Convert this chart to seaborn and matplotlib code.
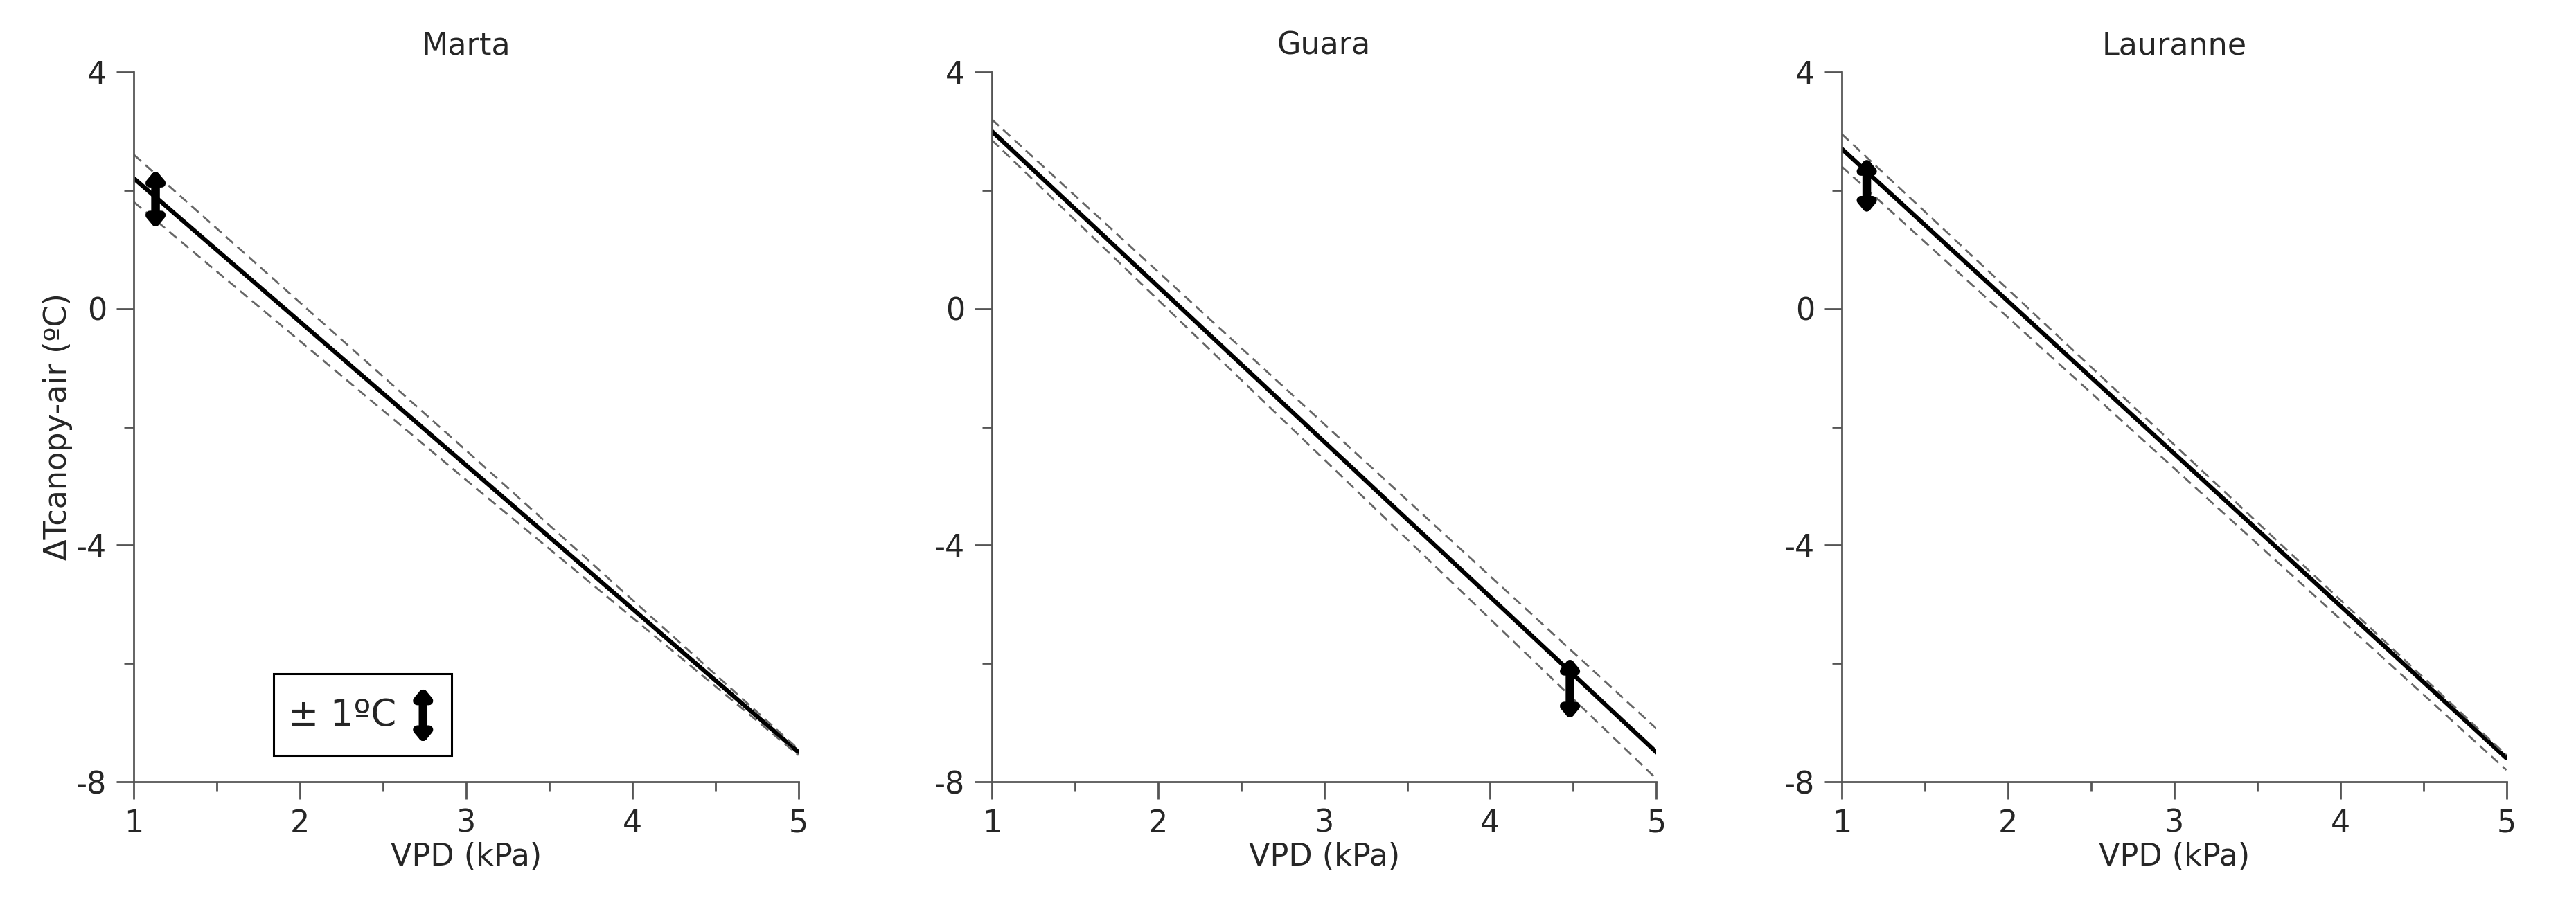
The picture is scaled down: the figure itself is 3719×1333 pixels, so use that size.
import numpy as np
import matplotlib
matplotlib.use("Agg")
import matplotlib.pyplot as plt
from matplotlib.patches import Rectangle
import seaborn as sns

sns.set_theme(style="ticks")
plt.rcParams['font.family'] = ['DejaVu Sans']
plt.rcParams['axes.unicode_minus'] = False

# datos
cultivars = ['Marta', 'Guara', 'Lauranne']
vpd = [1, 3, 5]
fit_line = {
    'Marta': [2.2, -2.65, -7.5],
    'Guara': [3.0, -2.25, -7.5],
    'Lauranne': [2.7, -2.45, -7.6],
}
upper_band = {
    'Marta': [2.6, -2.4, -7.45],
    'Guara': [3.2, -1.95, -7.1],
    'Lauranne': [2.95, -2.3, -7.55],
}
lower_band = {
    'Marta': [1.8, -2.9, -7.55],
    'Guara': [2.85, -2.55, -7.95],
    'Lauranne': [2.4, -2.7, -7.8],
}
# flechas ±1ºC (x, y_bajo, y_alto)
arrows = {
    'Marta': (1.13, 1.35, 2.35),
    'Guara': (4.48, -6.95, -5.9),
    'Lauranne': (1.15, 1.6, 2.55),
}

fig = plt.figure(figsize=(37.19, 13.33), dpi=100)
lefts = [0.052, 0.385, 0.715]
fs = 32
arrow_props = dict(arrowstyle='<|-|>,head_width=0.5,head_length=0.6', lw=9, color='black',
                   shrinkA=0, shrinkB=0)

for i, name in enumerate(cultivars):
    ax = fig.add_axes([lefts[i], 0.153, 0.258, 0.769])
    sns.lineplot(x=vpd, y=fit_line[name], ax=ax, color='black', linewidth=4.5)
    sns.lineplot(x=vpd, y=upper_band[name], ax=ax, color='#666666', linewidth=2, linestyle=(0, (5, 3)))
    sns.lineplot(x=vpd, y=lower_band[name], ax=ax, color='#666666', linewidth=2, linestyle=(0, (5, 3)))

    xa, y0, y1 = arrows[name]
    ax.annotate('', xy=(xa, y0), xytext=(xa, y1), arrowprops=arrow_props)

    ax.set_xlim(1, 5)
    ax.set_ylim(-8, 4)
    ax.set_xticks([1, 2, 3, 4, 5])
    ax.set_xticks(np.arange(1.5, 5, 1), minor=True)
    ax.set_yticks([-8, -4, 0, 4])
    ax.set_yticks([-6, -2, 2], minor=True)
    for s in ['top', 'right']:
        ax.spines[s].set_visible(False)
    for s in ['left', 'bottom']:
        ax.spines[s].set_color('#555555')
        ax.spines[s].set_linewidth(2)
    ax.tick_params(which='major', length=18, width=2, color='#555555', labelsize=fs, pad=10)
    ax.tick_params(which='minor', length=10, width=2, color='#555555')
    ax.set_xlabel('VPD (kPa)', fontsize=fs, labelpad=4)
    ax.set_title(name, fontsize=fs, pad=18)
    if i == 0:
        ax.set_ylabel('ΔTcanopy-air (ºC)', fontsize=fs, labelpad=4)
        ax.add_patch(Rectangle((1.84, -7.56), 1.07, 1.39, fill=False, ec='black', lw=2.2))
        ax.text(1.93, -6.87, '± 1ºC', fontsize=fs + 6, va='center', ha='left')
        ax.annotate('', xy=(2.74, -7.35), xytext=(2.74, -6.4), arrowprops=arrow_props)

fig.savefig('out.png', dpi=100, facecolor='white')
